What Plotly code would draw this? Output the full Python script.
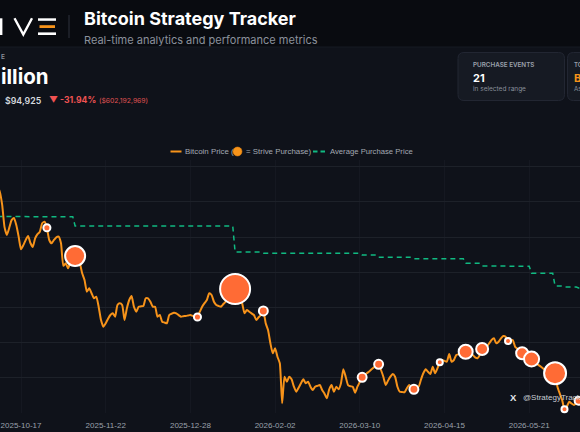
import plotly.graph_objects as go
import pandas as pd

# ---------------- data ----------------
# daily Bitcoin price (USD), one list per month, each list starts on the 1st unless noted
price_oct_2025 = [  # starts 2025-10-07
    124500, 122800, 119100, 112800, 110600, 112600, 114800, 115400, 113400, 110100,
    106500, 107700, 109150, 110280, 108300, 107160, 109600, 110800, 111510, 113900,
    114350, 112640, 109150, 108210, 109150]
price_nov_2025 = [
    109920, 110090, 108210, 101800, 102530, 101100, 102900, 103800, 104600, 103600,
    102530, 99690, 97780, 94460, 95430, 94010, 92590, 93040, 90200, 86420,
    84520, 85480, 86800, 87840, 88320, 87360, 90680, 91160, 90680, 86420]
price_dec_2025 = [
    89740, 92100, 93240, 90200, 88780, 90200, 90300, 90400, 92590, 92590,
    91620, 90200, 90200, 87360, 87840, 85940, 85700, 85480, 87840, 88200,
    88490, 88320, 87800, 87360, 87500, 87560, 87700, 87840, 87600, 87400, 87270]
price_jan_2026 = [
    88780, 90200, 91200, 92100, 94010, 93520, 91620, 90680, 90400, 90200,
    90970, 91620, 92500, 93500, 94500, 95230, 94000, 92500, 91160, 88320,
    89260, 88780, 88300, 87840, 86420, 87200, 87840, 88980, 85500, 83580, 79800]
price_feb_2026 = [
    76960, 78380, 75990, 74120, 62760, 70310, 68890, 70310, 69570, 67470,
    66050, 67200, 68440, 69570, 68440, 68890, 67500, 66530, 67470, 67700,
    67950, 66530, 65500, 64180, 66730, 67950, 66050, 67470]
price_mar_2026 = [
    66730, 68440, 72410, 70310, 67950, 67600, 67470, 65770, 67470, 68800,
    70140, 70700, 71280, 71800, 72410, 73000, 73500, 73840, 72220, 70310,
    67950, 69200, 70310, 71080, 70310, 67470, 66050, 65950, 65880, 67020, 67950]
price_apr_2026 = [
    67300, 66730, 67470, 67470, 69500, 71280, 72410, 71700, 71080, 73150,
    71280, 72700, 74400, 75060, 74800, 74570, 76760, 74570, 75060, 76480,
    76700, 76960, 77200, 77410, 77000, 76760, 76480, 75800, 75540, 76480]
price_may_2026 = [
    78180, 78500, 78840, 79800, 80740, 81220, 79800, 80260, 81200, 81870,
    81680, 80450, 80600, 80740, 78840, 78200, 77500, 76960, 76500, 76190,
    75800, 75340, 74700, 74120, 73600, 73150, 72600, 72220, 71900, 71600, 71400]
price_jun_2026 = [
    71280, 67470, 65500, 63690, 61050, 61790, 63210, 62700, 62270, 62800,
    63490, 63900, 64260]

month_starts = ["2025-10-07", "2025-11-01", "2025-12-01", "2026-01-01", "2026-02-01",
                "2026-03-01", "2026-04-01", "2026-05-01", "2026-06-01"]
month_prices = [price_oct_2025, price_nov_2025, price_dec_2025, price_jan_2026,
                price_feb_2026, price_mar_2026, price_apr_2026, price_may_2026, price_jun_2026]

# Strive purchases
purchase_dates = ["2025-10-28", "2025-11-09", "2025-12-31", "2026-01-16", "2026-01-28",
                  "2026-03-11", "2026-03-18", "2026-04-02", "2026-04-13", "2026-04-24",
                  "2026-05-01", "2026-05-12", "2026-05-18", "2026-05-22", "2026-06-01",
                  "2026-06-05", "2026-06-11"]
purchase_btc = [75, 600, 75, 1350, 120, 120, 120, 120, 55, 295, 215, 55, 215, 340, 725, 55, 95]
avg_before_range = 115800
avg_after_purchase = [115770, 113130, 113100, 105740, 105370, 104900, 104230, 103840, 103800,
                      102530, 101760, 101740, 101700, 99690, 96080, 95800, 95500]

tick_dates = ["2025-10-17", "2025-11-22", "2025-12-28", "2026-02-02", "2026-03-10",
              "2026-04-15", "2026-05-21"]

# ---------------- build series ----------------
dates, prices = [], []
for ms, vals in zip(month_starts, month_prices):
    dates += list(pd.date_range(ms, periods=len(vals), freq="D"))
    prices += vals
price_s = pd.Series(prices, index=pd.DatetimeIndex(dates))

p_idx = pd.to_datetime(purchase_dates)
purchase_price = [price_s[d] for d in p_idx]

avg_daily = []
for d in price_s.index:
    v = avg_before_range
    for pd_, a in zip(p_idx, avg_after_purchase):
        if pd_ <= d:
            v = a
    avg_daily.append(v)

# ---------------- layout helpers (pixel -> paper) ----------------
W, H = 580, 432
PLOT_TOP, PLOT_BOT = 160, 413
def px(x):
    return x / W
def py(y):
    return (PLOT_BOT - y) / (PLOT_BOT - PLOT_TOP)

PX_PER_DAY = 84.7 / 36
t0 = pd.Timestamp(tick_dates[0])
x_start = t0 - pd.Timedelta(days=21 / PX_PER_DAY)
x_end = t0 + pd.Timedelta(days=(W - 21) / PX_PER_DAY)
y_lo = 60000
y_hi = y_lo + (PLOT_BOT - PLOT_TOP) * 10000 / 35.2

BG = "#0f121a"
HEADER = "#090b10"
ORANGE = "#f7931a"
DOT = "#ff6b35"
GREEN = "#10b981"
UI = "Inter, 'Noto Sans', sans-serif"
CH = "'Liberation Sans', Arial, sans-serif"

fig = go.Figure()
fig.add_trace(go.Scatter(
    x=price_s.index, y=avg_daily, mode="lines",
    line=dict(color=GREEN, width=1.5, dash="5px,4px"),
    name="Average Purchase Price", showlegend=False, hoverinfo="skip"))
fig.add_trace(go.Scatter(
    x=price_s.index, y=price_s.values, mode="lines",
    line=dict(color=ORANGE, width=2, shape="spline", smoothing=0.5),
    name="Bitcoin Price", showlegend=False, hoverinfo="skip"))
fig.add_trace(go.Scatter(
    x=p_idx, y=purchase_price, mode="markers",
    marker=dict(size=purchase_btc, sizemode="area", sizeref=3, color=DOT, opacity=1,
                line=dict(color="white", width=2)),
    name="Strive Purchase", showlegend=False, hoverinfo="skip", cliponaxis=False))

def rrect(x0, y0, x1, y1, r):
    pts = (f"M {px(x0+r)},{py(y0)} L {px(x1-r)},{py(y0)} Q {px(x1)},{py(y0)} {px(x1)},{py(y0+r)} "
           f"L {px(x1)},{py(y1-r)} Q {px(x1)},{py(y1)} {px(x1-r)},{py(y1)} "
           f"L {px(x0+r)},{py(y1)} Q {px(x0)},{py(y1)} {px(x0)},{py(y1-r)} "
           f"L {px(x0)},{py(y0+r)} Q {px(x0)},{py(y0)} {px(x0+r)},{py(y0)} Z")
    return pts

shapes = [
    dict(type="rect", xref="paper", yref="paper", x0=0, x1=1, y0=py(47), y1=py(0),
         fillcolor=HEADER, line=dict(width=0), layer="below"),
    dict(type="line", xref="paper", yref="paper", x0=0, x1=1, y0=py(47), y1=py(47),
         line=dict(color="#161a22", width=1), layer="below"),
    # logo
    dict(type="line", xref="paper", yref="paper", x0=px(1.2), x1=px(1.2), y0=py(18.3), y1=py(35),
         line=dict(color="white", width=2.4)),
    dict(type="path", xref="paper", yref="paper",
         path=f"M {px(14.5)},{py(18.3)} L {px(23.3)},{py(34.5)} L {px(32)},{py(18.3)}",
         line=dict(color="white", width=2.4)),
    dict(type="rect", xref="paper", yref="paper", x0=px(38), x1=px(56), y0=py(20.8), y1=py(18.3),
         fillcolor="white", line=dict(width=0)),
    dict(type="rect", xref="paper", yref="paper", x0=px(39.5), x1=px(55), y0=py(28), y1=py(25.2),
         fillcolor=ORANGE, line=dict(width=0)),
    dict(type="rect", xref="paper", yref="paper", x0=px(38), x1=px(56), y0=py(35), y1=py(32.4),
         fillcolor="white", line=dict(width=0)),
    dict(type="line", xref="paper", yref="paper", x0=px(69), x1=px(69), y0=py(15), y1=py(38),
         line=dict(color="#2e323c", width=1)),
    # cards
    dict(type="path", xref="paper", yref="paper", path=rrect(458, 52.5, 564.5, 100.5, 6),
         fillcolor="#161a23", line=dict(color="#222632", width=1), layer="below"),
    dict(type="path", xref="paper", yref="paper", path=rrect(567.5, 52.5, 680, 100.5, 6),
         fillcolor="#161a23", line=dict(color="#222632", width=1), layer="below"),
    # legend samples
    dict(type="line", xref="paper", yref="paper", x0=px(170.5), x1=px(181.5), y0=py(151.5), y1=py(151.5),
         line=dict(color=ORANGE, width=2)),
    dict(type="circle", xref="paper", yref="paper", x0=px(233), x1=px(242), y0=py(156), y1=py(147),
         fillcolor=ORANGE, line=dict(color="#e8850f", width=0.5)),
    dict(type="line", xref="paper", yref="paper", x0=px(313), x1=px(317.5), y0=py(151.5), y1=py(151.5),
         line=dict(color=GREEN, width=2)),
    dict(type="line", xref="paper", yref="paper", x0=px(320.5), x1=px(325), y0=py(151.5), y1=py(151.5),
         line=dict(color=GREEN, width=2)),
]

def ann(text, x, y, size, color, family=UI, weight=400, xanchor="left"):
    return dict(text=text, xref="paper", yref="paper", x=px(x), y=py(y), xanchor=xanchor,
                yanchor="middle", showarrow=False,
                font=dict(family=family, size=size, color=color, weight=weight))

annotations = [
    ann("Bitcoin Strategy Tracker", 81.5, 18.5, 18, "#ffffff", weight=700),
    ann("Real-time analytics and performance metrics", 81.5, 39.5, 11, "#8b919c"),
    ann("E", -1, 57, 6.5, "#8b919c", weight=600),
    ann("illion", -1.5, 77, 20.5, "#ffffff", weight=700),
    ann("$94,925", 2.5, 100, 8.8, "#d5d8de", weight=600),
    ann("▼ -31.94%", 46.5, 100, 8.6, "#f05252", weight=700),
    ann("($602,192,969)", 96.5, 100.3, 6.8, "#e05353"),
    ann("PURCHASE EVENTS", 471, 64.8, 6.3, "#9aa0ab", weight=600),
    ann("21", 471, 77.5, 11, "#ffffff", weight=700),
    ann("in selected range", 471, 88.5, 6.5, "#8a909b"),
    ann("TO", 571.5, 64.8, 6.0, "#9aa0ab", weight=600),
    ann("B", 571.5, 77.5, 11, ORANGE, weight=700),
    ann("As", 571.5, 88.5, 6.2, "#8a909b"),
    ann("Bitcoin Price (", 182.5, 151.5, 7.9, "#a3a9b3", family=CH),
    ann("= Strive Purchase)", 243.5, 151.5, 7.9, "#a3a9b3", family=CH),
    ann("Average Purchase Price", 327.5, 151.5, 7.7, "#a3a9b3", family=CH),
    ann("X", 507.5, 397.5, 9.5, "#e6e8ec", family=CH, weight=700),
    ann("@StrategyTracker", 520.5, 397.5, 8, "#c9cdd4", family=CH),
]

fig.update_layout(
    width=W, height=H,
    margin=dict(l=0, r=0, t=PLOT_TOP, b=H - PLOT_BOT, pad=0),
    paper_bgcolor=BG, plot_bgcolor=BG,
    showlegend=False,
    shapes=shapes, annotations=annotations,
    xaxis=dict(type="date", range=[x_start, x_end], tickvals=pd.to_datetime(tick_dates),
               ticktext=tick_dates, showgrid=True, gridcolor="#151821", gridwidth=1,
               zeroline=False, showline=False, ticks="", ticklabelstandoff=6,
               tickfont=dict(family=CH, size=8, color="#9ba1ab"), automargin=False),
    yaxis=dict(range=[y_lo, y_hi], dtick=10000, tick0=0, showgrid=True, gridcolor="#1d2129",
               gridwidth=1, zeroline=False, showline=False, showticklabels=False,
               automargin=False),
)

fig.write_html("out.html", config={"displayModeBar": False},
               post_script="document.body.style.margin='0';document.body.style.background='#0f121a';")
